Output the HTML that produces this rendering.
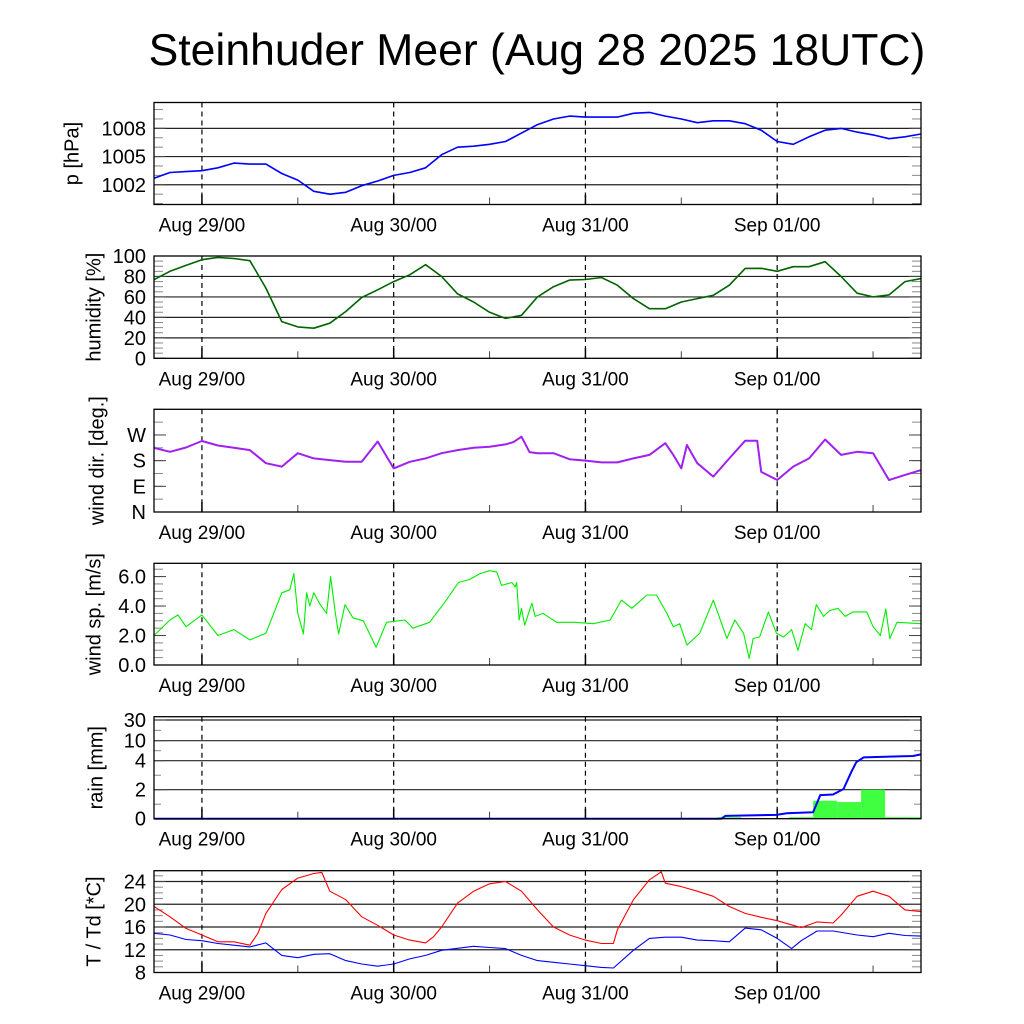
<!DOCTYPE html>
<html><head><meta charset="utf-8"><style>
html,body{margin:0;padding:0;background:#fff;}
svg{display:block;font-family:"Liberation Sans",Arial,sans-serif;}
</style></head><body>
<svg id="chart" width="1024" height="1024" viewBox="0 0 1024 1024" xmlns="http://www.w3.org/2000/svg">
<rect x="0" y="0" width="1024" height="1024" fill="#fff"/>
<defs><clipPath id="plotclip"><rect x="154" y="0" width="767" height="1024"/></clipPath></defs>
<text x="537" y="65" font-size="44.5" text-anchor="middle" fill="#000">Steinhuder Meer (Aug 28 2025 18UTC)</text>
</svg>
<script>
// ---- data (hours since Aug 28 18UTC) ----
const dayLabels = ["Aug 29/00","Aug 30/00","Aug 31/00","Sep 01/00"];
const dayHours = [6,30,54,78];

const pHours = [0,2,4,6,8,10,12,14,16,18,20,22,24,26,28,30,32,34,36,38,40,42,44,46,48,50,52,54,56,58,60,62,64,66,68,70,72,74,76,78,80,82,84,86,88,90,92,94,96];
const pVals = [1002.7,1003.3,1003.4,1003.5,1003.8,1004.3,1004.2,1004.2,1003.2,1002.5,1001.3,1001.0,1001.2,1001.9,1002.4,1003.0,1003.3,1003.8,1005.2,1006.0,1006.1,1006.3,1006.6,1007.5,1008.4,1009.0,1009.3,1009.2,1009.2,1009.2,1009.6,1009.7,1009.3,1009.0,1008.6,1008.8,1008.8,1008.5,1007.8,1006.6,1006.3,1007.1,1007.8,1008.0,1007.6,1007.3,1006.9,1007.1,1007.4];

const hHours = [0,2,4,6,8,10,12,14,16,18,20,22,24,26,28,30,32,34,36,38,40,42,44,46,48,50,52,54,56,58,60,62,64,66,68,70,72,74,76,78,80,82,84,86,88,90,92,94,96];
const hVals = [76.8,85,90.8,96.4,98.6,97.6,95.4,68.6,35.9,30.7,29.4,34.3,45.7,59.4,67,75,81.6,91.5,80,63,55,45,39,42,60,70,76.4,77,79,71.5,58.4,48.5,48.5,55,58.4,61.6,71.5,87.9,88,85,89.5,89.5,94.4,80,63.6,60,62,75,78];

const dHours = [0,2,4,6,8,10,12,14,16,18,20,22,24,26,28,30,32,34,36,38,40,42,44,45,46,47,48,50,52,54,56,58,60,62,64,65,66,66.7,68,70,72,74,75.5,76,78,80,82,84,86,88,90,92,94,96];
const dVals = [225,211,226,249,233,225,217,171,159,206,188,182,176,176,247,153,176,188,206,217,225,229,237,245,264,210,206,206,185,180,174,174,188,200,241,200,153,235,171,124,188,250,250,141,112,159,188,254,200,211,206,112,130,147];

const sHours = [0,2,3,4,6,8,10,12,14,16,17,17.5,18,18.7,19.1,19.5,20,20.8,21.6,22.1,22.7,23.1,23.9,24.9,26.2,27.8,29.1,31.4,32.4,34.5,36.6,38.1,39.5,40.8,42,42.9,43.5,44.8,45.2,45.4,45.7,46,46.4,47.3,47.7,48.7,50.4,52.7,55,57.1,58.5,59.8,61.7,62.9,64.2,65,65.8,66.7,68.3,70,71.7,72.7,73.8,74.5,75,75.8,76.9,77.9,78.8,79.8,80.6,81.5,82.3,82.9,83.8,84.6,85.6,86.5,87.5,89.2,90,90.9,91.6,92.1,93,96];
const sVals = [2.0,3.05,3.4,2.6,3.4,2.0,2.4,1.7,2.15,4.9,5.1,6.2,3.5,2.1,4.9,4.0,4.9,4.1,3.5,6.0,3.5,2.1,4.1,3.2,3.0,1.2,2.9,3.05,2.5,2.9,4.4,5.6,5.8,6.2,6.4,6.3,5.4,5.6,5.3,5.6,3.05,3.85,2.7,4.2,3.3,3.5,2.9,2.9,2.8,3.05,4.4,3.85,4.75,4.75,3.5,2.6,2.8,1.35,2.15,4.4,1.8,3.05,2.15,0.45,1.8,1.9,3.6,2.15,1.9,2.4,1.0,2.8,2.4,4.1,3.3,3.7,3.85,3.3,3.6,3.6,2.6,2.0,3.8,1.8,2.9,2.8];

const rainTicks = [0,2,4,10,30];
const rHours = [0,71,71.5,77.9,79.2,82.5,83.4,85,86.3,87.3,87.9,88.8,95,96];
const rVals = [0,0,0.19,0.26,0.37,0.44,1.63,1.67,2.05,3.25,3.9,5.0,5.4,5.9];
const barStart = [70.5,79.5,82.5,85.5,88.5,91.5,94.5];
const barVals = [0.1,0.1,1.24,1.15,2.0,0,0];

const tHours = [0,2,4,6,8,10,12,13,14,16,18,20,21,22,24,26,28,30,32,34,35,36,38,40,42,44,46,48,50,52,54,56,57.5,58,60,62,63.5,64,66,68,70,72,74,76,78,80,81,83,85,86,88,90,92,94,96];
const tVals = [19.6,17.8,15.75,14.6,13.4,13.4,12.8,14.9,18.4,22.6,24.6,25.4,25.6,22.3,20.8,17.8,16.3,14.6,13.7,13.2,14.3,16.0,20.2,22.3,23.6,24.0,22.3,19.0,16.0,14.6,13.7,13.1,13.1,15.5,20.8,24.3,25.7,23.7,23.1,22.3,21.4,19.6,18.4,17.7,17.1,16.3,15.9,16.9,16.7,18.1,21.4,22.3,21.4,19.0,18.7];
const tdHours = [0,2,4,6,8,10,12,14,16,18,20,22,24,26,28,30,32,34,36,40,42,44,46,48,50,52,54,56,57.5,60,62,64,66,68,70,72,74,76,78,79.8,81,83,85,88,90,92,94,96];
const tdVals = [14.9,14.6,13.8,13.6,13.1,12.8,12.5,13.2,11.0,10.6,11.2,11.3,10.1,9.5,9.1,9.5,10.4,11.0,11.9,12.6,12.4,12.2,11.0,10.1,9.8,9.5,9.2,8.9,8.8,11.9,14.0,14.2,14.2,13.7,13.6,13.4,15.8,15.5,14.0,12.2,13.6,15.3,15.3,14.6,14.3,14.9,14.5,14.4];

// ---- layout ----
const X0=154, X1=921, HMAX=96;
const NS="http://www.w3.org/2000/svg";
const svg=document.getElementById('chart');
function xs(h){return X0+(X1-X0)*h/HMAX;}
function mk(tag,attrs,parent){const e=document.createElementNS(NS,tag);for(const k in attrs)e.setAttribute(k,attrs[k]);(parent||svg).appendChild(e);return e;}

const panels=[
 {name:'pressure',top:102.5,bot:204.5,min:999.9,max:1010.75,label:'p [hPa]',lx:73,
  ticks:[1002,1005,1008],tickText:['1002','1005','1008'],grid:true,minor:1},
 {name:'humidity',top:256,bot:358.3,min:0,max:100,label:'humidity [%]',lx:95,
  ticks:[0,20,40,60,80,100],tickText:['0','20','40','60','80','100'],grid:true,gridVals:[20,40,60,80],minor:5},
 {name:'wind-direction',top:409.3,bot:512,min:0,max:360,label:'wind dir. [deg.]',lx:98,
  ticks:[0,90,180,270],tickText:['N','E','S','W'],grid:false,minor:45},
 {name:'wind-speed',top:563.3,bot:665,min:0,max:6.9,label:'wind sp. [m/s]',lx:95,
  ticks:[0,2,4,6],tickText:['0.0','2.0','4.0','6.0'],grid:false,minor:0.5},
 {name:'rain',top:716.7,bot:818.7,min:0,max:34,label:'rain [mm]',lx:97,
  ticks:[0,2,4,10,30],tickText:['0','2','4','10','30'],grid:true,gridVals:[2,4,10,30],rain:true},
 {name:'temperature',top:870.7,bot:972.5,min:8,max:25.9,label:'T / Td [*C]',lx:95,
  ticks:[8,12,16,20,24],tickText:['8','12','16','20','24'],grid:true,gridVals:[12,16,20,24],minor:1}
];
const rainPos=[818.7,789.7,760.7,740.7,720];
function ysFor(p){
  if(p.rain){
    return function(v){
      if(v<=0)return rainPos[0];
      for(let i=1;i<rainTicks.length;i++){
        if(v<=rainTicks[i]){const f=(v-rainTicks[i-1])/(rainTicks[i]-rainTicks[i-1]);return rainPos[i-1]+f*(rainPos[i]-rainPos[i-1]);}
      }
      return rainPos[4]-(v-30)*1;
    };
  }
  return function(v){return p.bot-(v-p.min)/(p.max-p.min)*(p.bot-p.top);};
}
function pathFrom(hs,vs,ys){let d='';for(let i=0;i<hs.length;i++){d+=(i?'L':'M')+xs(hs[i]).toFixed(1)+','+ys(vs[i]).toFixed(1);}return d;}

panels.forEach(p=>{
  const g=mk('g',{});
  
  
  const ys=ysFor(p);
  const gv=p.gridVals||(p.grid?p.ticks:[]);
  if(p.grid){gv.forEach(v=>{const l=mk('line',{x1:X0,x2:X1,y1:ys(v),y2:ys(v),stroke:'#222','stroke-width':1.2},g);
    
    });}
  if(p.minor){for(let v=Math.ceil(p.min/p.minor)*p.minor;v<=p.max;v+=p.minor){const y=ys(v);
    mk('line',{x1:X0,x2:X0+9,y1:y,y2:y,stroke:'#888','stroke-width':1},g);
    mk('line',{x1:X1-9,x2:X1,y1:y,y2:y,stroke:'#888','stroke-width':1},g);}}
  if(p.rain){[1,3,7,20].forEach(v=>{const y=ys(v);mk('line',{x1:X0,x2:X0+7,y1:y,y2:y,stroke:'#888'},g);mk('line',{x1:X1-7,x2:X1,y1:y,y2:y,stroke:'#888'},g);});}
  p.ticks.forEach((v,i)=>{const y=ys(v);
    mk('line',{x1:X0,x2:X0+12,y1:y,y2:y,stroke:'#444'},g);
    mk('line',{x1:X1-12,x2:X1,y1:y,y2:y,stroke:'#444'},g);
    const t=mk('text',{x:146,y:y+7,'font-size':20,'text-anchor':'end',fill:'#000'},g);
    
    
    t.textContent=p.tickText[i];});
  dayHours.forEach((h,i)=>{const x=xs(h);
    const l=mk('line',{x1:x,x2:x,y1:p.top,y2:p.bot,stroke:'#000','stroke-width':1.2,'stroke-dasharray':'5,4'},g);
    
    
    mk('line',{x1:x,x2:x,y1:p.bot-10,y2:p.bot,stroke:'#000','stroke-width':1.5},g);
    const t=mk('text',{x:x,y:p.bot+27,'font-size':19,'text-anchor':'middle',fill:'#000'},g);
    
    
    t.textContent=dayLabels[i];
    const m=xs(h+12);mk('line',{x1:m,x2:m,y1:p.bot-7,y2:p.bot,stroke:'#444'},g);});
  const cy=(p.top+p.bot)/2;
  const yl=mk('text',{x:p.lx,y:cy,'font-size':20,'text-anchor':'middle',fill:'#000',transform:'rotate(-90 '+p.lx+' '+cy+')','dominant-baseline':'middle'},g);
  
  
  yl.textContent=p.label;
  p.g=g;p.ys=ys;
});

function series(pi,hs,vs,color,w,name){
  const p=panels[pi];
  const e=mk('path',{d:pathFrom(hs,vs,p.ys),fill:'none',stroke:color,'stroke-width':w,'stroke-linejoin':'round','clip-path':'url(#plotclip)'},p.g);
  
  
}
(function(){const p=panels[4];
  barStart.forEach((h,i)=>{const x=xs(h),w=xs(Math.min(h+3,HMAX))-x,y=p.ys(barVals[i]);
    if(w<=0)return;
    const r=mk('rect',{x:x,y:Math.min(y,p.bot-1.5),width:w,height:Math.max(p.bot-y,1.5),fill:'#40ff40'},p.g);
    
    });})();
series(0,pHours,pVals,'#0000ff',1.6,'pressure-line');
series(1,hHours,hVals,'#006400',1.6,'humidity-line');
series(2,dHours,dVals,'#a020f0',2,'wind-direction-line');
series(3,sHours,sVals,'#00ee00',1.1,'wind-speed-line');
series(4,rHours,rVals,'#0000ff',2,'rain-cumulative-line');
series(5,tHours,tVals,'#ff0000',1.1,'temperature-line');
series(5,tdHours,tdVals,'#0000ff',1.1,'dewpoint-line');
panels.forEach(p=>{const r=mk('rect',{x:X0,y:p.top,width:X1-X0,height:p.bot-p.top,fill:'none',stroke:'#000','stroke-width':1.3},p.g);
  
  });
</script>
</body></html>
